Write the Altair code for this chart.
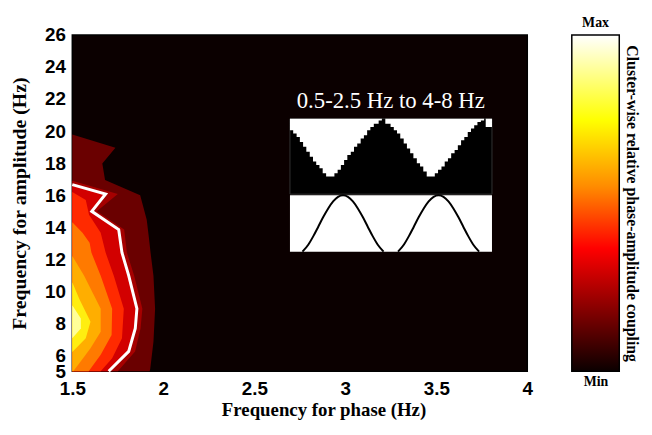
import altair as alt
import pandas as pd

# ---------------- axes ----------------
X_TICKS = [1.5, 2, 2.5, 3, 3.5, 4]
Y_TICKS = [5, 6, 8, 10, 12, 14, 16, 18, 20, 22, 24, 26]
X_DOMAIN = [1.5, 4]
Y_DOMAIN = [5, 26]

# ---------------- contour levels (outer -> inner) ----------------
# each level: right-hand boundary (phase Hz) at amplitude frequency (Hz); filled from 1.5 Hz
LEVEL_COLORS = ["#6a0000", "#a50000", "#d20000", "#ff2a00", "#ff7a00", "#ffae00", "#ffee10", "#ffff99"]

L1_Y = [5.0, 5.12, 6.85, 8.91, 10.97, 12.41, 13.44, 14.47, 16.0, 16.94, 17.97, 18.96, 19.78]
L1_X = [1.925, 1.928, 1.946, 1.955, 1.946, 1.93, 1.92, 1.909, 1.873, 1.68, 1.665, 1.737, 1.5]

L2_Y = [5.0, 6.24, 7.67, 8.91, 10.97, 12.41, 13.85, 14.99, 16.07, 16.9]
L2_X = [1.75, 1.845, 1.875, 1.885, 1.84, 1.80, 1.785, 1.635, 1.75, 1.5]

L3_Y = [5.0, 6.24, 7.67, 8.91, 10.97, 12.41, 13.85, 14.99, 16.07, 16.66]
L3_X = [1.70, 1.81, 1.846, 1.855, 1.81, 1.773, 1.755, 1.607, 1.683, 1.5]

L4_Y = [5.0, 5.82, 7.06, 8.91, 10.97, 12.41, 13.65, 14.78, 15.7, 16.2]
L4_X = [1.656, 1.719, 1.773, 1.783, 1.728, 1.683, 1.656, 1.592, 1.574, 1.5]

L5_Y = [5.0, 6.03, 7.27, 8.91, 10.97, 12.41, 13.03, 13.65, 14.3]
L5_X = [1.59, 1.656, 1.716, 1.719, 1.656, 1.605, 1.595, 1.556, 1.5]

L6_Y = [5.0, 5.62, 6.44, 7.47, 8.91, 10.97, 12.2]
L6_X = [1.505, 1.547, 1.60, 1.656, 1.656, 1.565, 1.5]

L7_Y = [6.2, 7.06, 8.09, 9.53, 10.56]
L7_X = [1.5, 1.574, 1.60, 1.538, 1.5]

L8_Y = [7.06, 7.67, 8.29, 9.12]
L8_X = [1.5, 1.547, 1.547, 1.5]

# significance contour (white line) = boundary of level 3
SIG_Y = L3_Y
SIG_X = L3_X

# ---------------- inset ----------------
INSET_TITLE = "0.5-2.5 Hz to 4-8 Hz"
# box placement in plot data units
INSET_X0, INSET_X1 = 2.696, 3.806
INSET_TOP, INSET_V0, INSET_BLACK_BOTTOM = 20.77, 16.24, 16.06
WHITE_BOX_TOP, WHITE_BOX_BOTTOM = 16.0, 12.47
INSET_TITLE_POS = (3.25, 21.85)

# stepped amplitude envelope (phase fraction u, amplitude fraction v)
STEP_U = [0, .016, .033, .049, .065, .081, .098, .114, .13, .146, .162, .179, .22, .236, .252, .268,
          .284, .301, .317, .333, .35, .366, .382, .398, .415, .439, .455,
          .472, .498, .514, .53, .546, .563, .579, .595, .611, .628, .644, .66, .677, .717, .733,
          .75, .766, .782, .798, .815, .831, .847, .863, .88, .896, .912, .928, .945, .961, .969, 1.0]
STEP_V = [.84, .795, .75, .68, .614, .546, .477, .41, .364, .318, .25, .205, .25, .296, .364, .432,
          .5, .546, .614, .66, .727, .773, .84, .886, .93, .977, 1.0,
          .93, .886, .84, .795, .727, .66, .59, .523, .455, .386, .341, .273, .205, .25, .296,
          .341, .41, .455, .523, .568, .636, .705, .75, .818, .864, .909, .955, .977, 1.0, .886, .886]

# low-frequency phase wave (offset from each peak, value)
WAVE_PEAKS = [2.9875, 3.5125]
WAVE_DX = [-0.2228, -0.190, -0.163, -0.1359, -0.1087, -0.0815, -0.0543, -0.0272, 0,
           0.0272, 0.0543, 0.0815, 0.1087, 0.1359, 0.163, 0.190, 0.2228]
WAVE_Y = [12.47, 12.92, 13.44, 14.03, 14.63, 15.17, 15.61, 15.896, 15.994,
          15.896, 15.61, 15.17, 14.63, 14.03, 13.44, 12.92, 12.47]

# colour bar (hot colormap)
CB_OFFSETS = [0, 0.365, 0.55, 0.746, 1.0]
CB_COLORS = ["#0b0000", "#ff0000", "#ff8c00", "#ffff00", "#ffffff"]

# ---------------- encodings ----------------
SERIF = "Liberation Serif"
SANS = "Liberation Sans"
XS = alt.Scale(domain=X_DOMAIN, nice=False, zero=False)
YS = alt.Scale(domain=Y_DOMAIN, nice=False, zero=False)
XAXIS = alt.Axis(values=X_TICKS, format="~g", grid=False, ticks=False, domain=False,
                 labelFont=SANS, labelFontWeight="bold", labelFontSize=19, labelColor="black",
                 labelPadding=8, labelFlush=False, labelOverlap=False,
                 titleFont=SERIF, titleFontWeight="bold", titleFontSize=19, titleColor="black",
                 titlePadding=3, titleX=254)
YAXIS = alt.Axis(values=Y_TICKS, format="d", grid=False, ticks=False, domain=False,
                 labelFont=SANS, labelFontWeight="bold", labelFontSize=19, labelColor="black",
                 labelPadding=7, labelFlush=False, labelOverlap=False,
                 titleFont=SERIF, titleFontWeight="bold", titleFontSize=20, titleColor="black",
                 titlePadding=15)
XT = "Frequency for phase (Hz)"
YT = "Frequency for amplitude (Hz)"


def X(f):
    return alt.X(f"{f}:Q", scale=XS, axis=XAXIS, title=XT)


def Y(f):
    return alt.Y(f"{f}:Q", scale=YS, axis=YAXIS, title=YT)


layers = []
levels = [(L1_X, L1_Y), (L2_X, L2_Y), (L3_X, L3_Y), (L4_X, L4_Y),
          (L5_X, L5_Y), (L6_X, L6_Y), (L7_X, L7_Y), (L8_X, L8_Y)]
for (xs, ys), col in zip(levels, LEVEL_COLORS):
    df = pd.DataFrame({"x": xs, "y": ys})
    layers.append(
        alt.Chart(df).mark_area(orient="horizontal", color=col, interpolate="linear")
        .encode(y=Y("y"), x=X("x"), x2=alt.datum(1.5))
    )

sig_df = pd.DataFrame({"x": SIG_X, "y": SIG_Y, "i": list(range(len(SIG_X)))})
layers.append(
    alt.Chart(sig_df).mark_line(color="white", strokeWidth=3)
    .encode(x=X("x"), y=Y("y"), order="i:Q")
)

# inset boxes
black_box = pd.DataFrame({"x0": [INSET_X0], "x1": [INSET_X1], "y0": [INSET_BLACK_BOTTOM], "y1": [INSET_TOP]})
layers.append(
    alt.Chart(black_box).mark_rect(color="black", stroke="#333333", strokeWidth=1)
    .encode(x=X("x0"), x2="x1", y=Y("y0"), y2="y1")
)
step_df = pd.DataFrame({
    "x": [INSET_X0 + u * (INSET_X1 - INSET_X0) for u in STEP_U],
    "y": [INSET_V0 + v * (INSET_TOP - INSET_V0) for v in STEP_V],
})
layers.append(
    alt.Chart(step_df).mark_area(color="white", interpolate="step-after")
    .encode(x=X("x"), y=Y("y"), y2=alt.datum(INSET_TOP))
)
white_box = pd.DataFrame({"x0": [INSET_X0], "x1": [INSET_X1], "y0": [WHITE_BOX_BOTTOM], "y1": [WHITE_BOX_TOP]})
layers.append(
    alt.Chart(white_box).mark_rect(color="white")
    .encode(x=X("x0"), x2="x1", y=Y("y0"), y2="y1")
)
wave_rows = []
for k, p in enumerate(WAVE_PEAKS):
    for i, (dx, wy) in enumerate(zip(WAVE_DX, WAVE_Y)):
        wave_rows.append({"x": p + dx, "y": wy, "hump": k, "i": i})
layers.append(
    alt.Chart(pd.DataFrame(wave_rows)).mark_line(color="black", strokeWidth=2, interpolate="monotone")
    .encode(x=X("x"), y=Y("y"), detail="hump:N", order="i:Q")
)
title_df = pd.DataFrame({"x": [INSET_TITLE_POS[0]], "y": [INSET_TITLE_POS[1]], "t": [INSET_TITLE]})
layers.append(
    alt.Chart(title_df).mark_text(font=SERIF, fontSize=23, color="white", baseline="middle", align="center")
    .encode(x=X("x"), y=Y("y"), text="t:N")
)

main = alt.layer(*layers).properties(
    width=460, height=340,
    view=alt.ViewBackground(fill="#0b0000", stroke="black", strokeWidth=1.5),
)

# ---------------- colour bar ----------------
cb_df = pd.DataFrame({"a": [0], "b": [1], "lo": [0], "hi": [1]})
grad = alt.Gradient(
    gradient="linear",
    stops=[alt.GradientStop(color=c, offset=o) for o, c in zip(CB_OFFSETS, CB_COLORS)],
    x1=0, x2=0, y1=1, y2=0,
)
cbar = alt.Chart(cb_df).mark_rect(fill=grad, stroke="black", strokeWidth=1.5).encode(
    x=alt.X("a:Q", scale=alt.Scale(domain=[0, 1], nice=False),
            axis=alt.Axis(labels=False, ticks=False, domain=False, grid=False, title="Min",
                          titleFont=SERIF, titleFontWeight="bold", titleFontSize=14,
                          titleColor="black", titlePadding=3)),
    x2="b",
    y=alt.Y("lo:Q", scale=alt.Scale(domain=[0, 1], nice=False),
            axis=alt.Axis(orient="right", labels=False, ticks=False, domain=False, grid=False,
                          title="Cluster-wise relative phase-amplitude coupling",
                          titleFont=SERIF, titleFontWeight="bold", titleFontSize=16,
                          titleColor="black", titlePadding=4)),
    y2="hi",
).properties(
    width=48, height=340,
    title=alt.Title("Max", font=SERIF, fontWeight="bold", fontSize=14, color="black",
                    anchor="middle", offset=4),
    view=alt.ViewBackground(stroke="transparent"),
)

chart = alt.hconcat(main, cbar, spacing=36).properties(
    padding={"left": 1, "top": 5, "right": 4, "bottom": 0},
    background="white",
)

chart.save("out.html", embed_options={"renderer": "svg", "actions": False})
